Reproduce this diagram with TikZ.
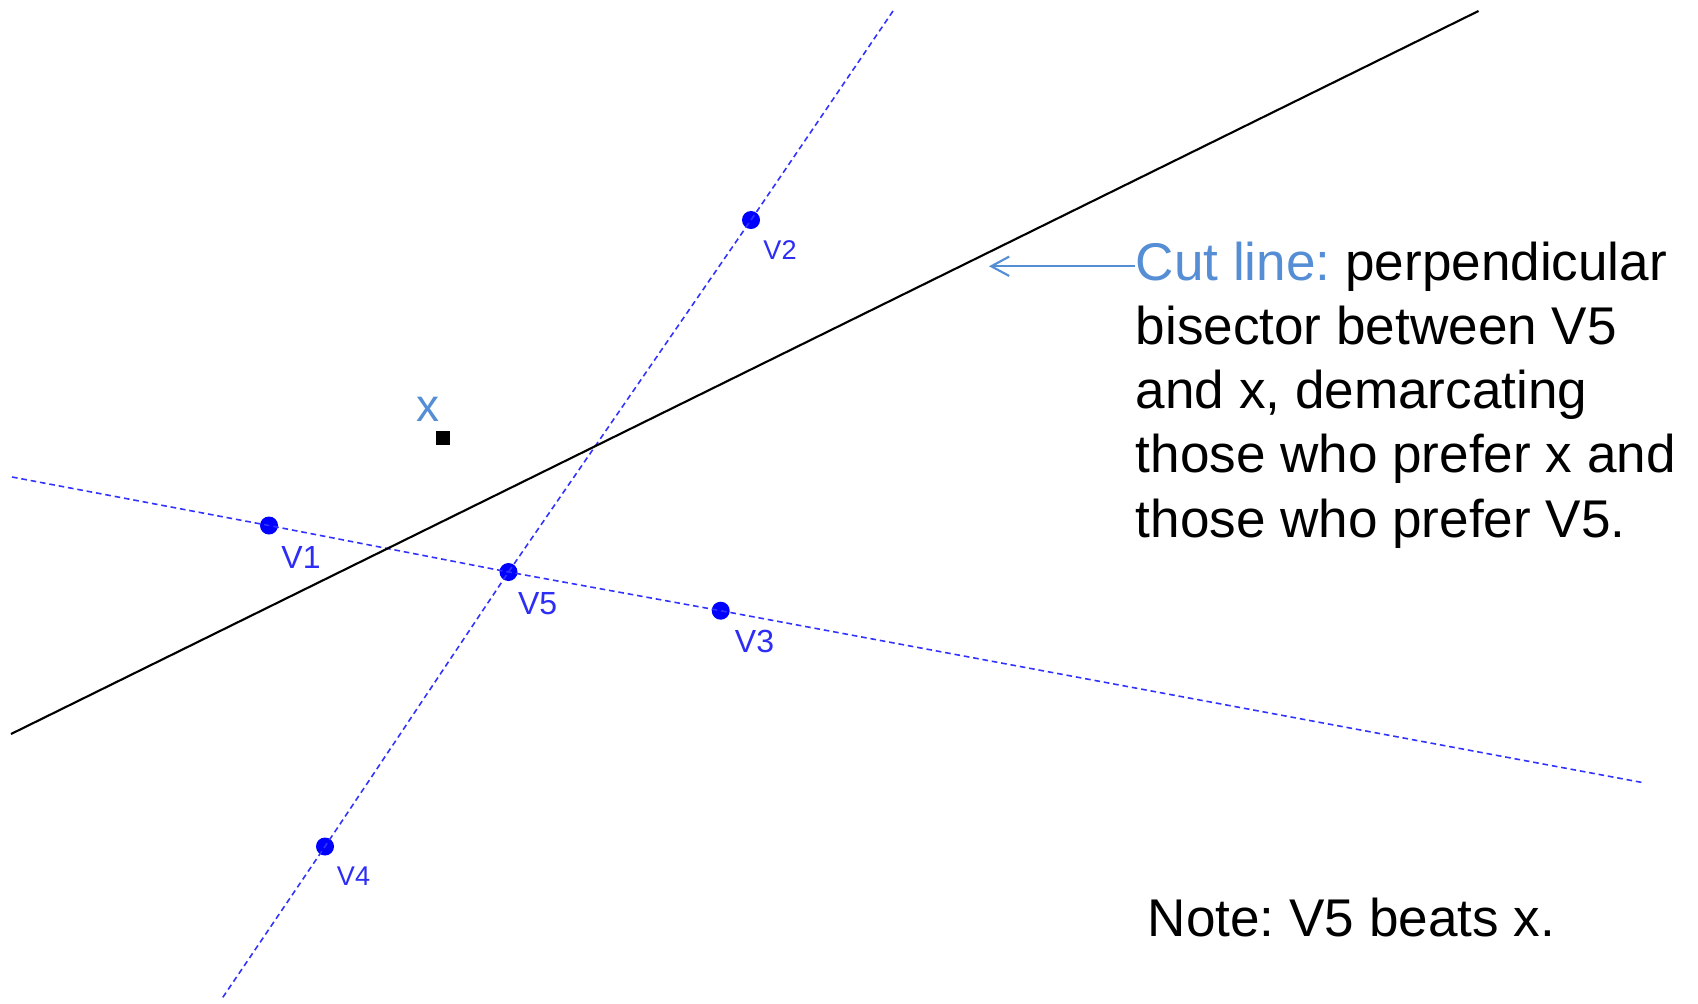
\documentclass[tikz,border=0pt]{standalone}
\usepackage{fontspec}
\setmainfont{Liberation Sans}
\usetikzlibrary{arrows.meta}
\frenchspacing
\definecolor{voterblue}{RGB}{0,0,255}
\definecolor{labelblue}{RGB}{45,45,245}
\definecolor{dashblue}{RGB}{50,50,255}
\definecolor{cutblue}{RGB}{85,142,213}

\begin{document}
\begin{tikzpicture}[x=0.01cm, y=-0.01cm,
    voter/.style={circle, fill=voterblue, inner sep=0pt, minimum size=0.18cm},
    bigvlabel/.style={text=labelblue, inner sep=0pt, font=\fontsize{9.1}{11}\selectfont},
    smallvlabel/.style={text=labelblue, inner sep=0pt, font=\fontsize{7.7}{9}\selectfont},
    prefline/.style={dashblue, line width=0.45pt, dash pattern=on 1.6pt off 1.1pt},
    note/.style={inner sep=0pt, anchor=base west, font=\fontsize{15.1}{18.3}\selectfont}]
        \path[use as bounding box, fill=white] (0,0) rectangle (1698,1003);

        % Draw the voters and the status quo x
        \node[voter] (v1) at (269,525.5) {};
        \node[voter] (v2) at (751,220) {};
        \node[voter] (v3) at (720.7,610.7) {};
        \node[voter] (v4) at (325,846.5) {};
        \node[voter] (v5) at (508.5,572) {};
        \node[bigvlabel] (v1label) at (301,557) {V1};
        \node[smallvlabel] (v2label) at (780,250) {V2};
        \node[bigvlabel] (v3label) at (754.5,641.5) {V3};
        \node[smallvlabel] (v4label) at (353.5,876) {V4};
        \node[bigvlabel] (v5label) at (537.6,603.3) {V5};
        \node[fill=black, inner sep=0pt, minimum size=0.14cm] (sq) at (443,438) {};
        \node[text=cutblue, inner sep=0pt, font=\fontsize{13.1}{15}\selectfont] (sqlabel) at (428.3,409.5) {x};

        % Draw the dashed lines through the voters
        \coordinate (hstart) at (12,477);
        \coordinate (hend) at (1645,783);
        \draw[prefline] (hstart) -- (v1.center) -- (v5.center) -- (v3.center) -- (hend);
        \coordinate (vstart) at (893,11);
        \coordinate (vend) at (221,1000);
        \draw[prefline] (vstart) -- (v2.center) -- (v5.center) -- (v4.center) -- (vend);

        % Draw the cut line
        \coordinate (cutstart) at (11,734);
        \coordinate (cutend) at (1478.5,11);
        \draw[line width=0.6pt] (cutstart) -- (cutend);

        % Explain the cut line
        \node[note] (cutline) at (1135,280) {\textcolor{cutblue}{Cut line:} perpendicular};
        \node[note] (bisector) at ([yshift=-18.27pt]cutline.base west) {bisector between V5};
        \node[note] (demarc) at ([yshift=-18.27pt]bisector.base west) {and x, demarcating};
        \node[note] (preferx) at ([yshift=-18.27pt]demarc.base west) {those who prefer x and};
        \node[note] (preferv) at ([yshift=-18.27pt]preferx.base west) {those who prefer V5.};
        \coordinate (cuttip) at (989,266);
        \draw[cutblue, line width=0.6pt, -{Straight Barb[length=5.1pt,width=5.5pt]}] (cutline.west) -- (cutline.west -| cuttip);

        \node[note] (verdict) at (1147,936) {Note: V5 beats x.};
\end{tikzpicture}
\end{document}
